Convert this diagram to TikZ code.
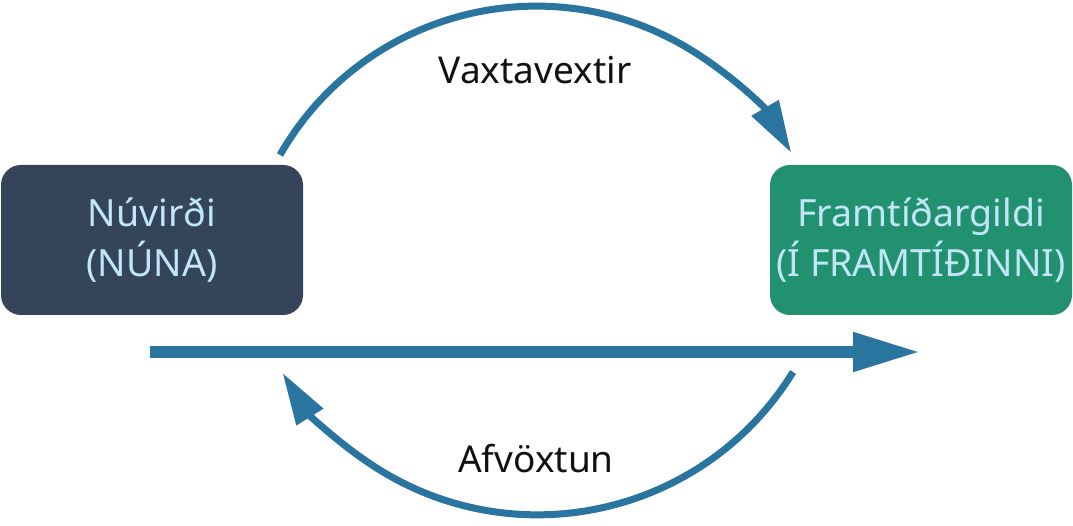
\documentclass[tikz,border=0pt]{standalone}
\usepackage{fontspec}
\setmainfont{Noto Sans}
\usetikzlibrary{arrows.meta}
\definecolor{arrowblue}{HTML}{2A74A0}
\definecolor{darkbox}{HTML}{344559}
\definecolor{greenbox}{HTML}{21916F}
\definecolor{boxtext}{HTML}{C2E6F7}
\definecolor{labeltext}{HTML}{111111}
\tikzset{
  valuebox/.style={rounded corners=20pt, minimum width=302pt, minimum height=150pt,
    inner sep=0pt, align=center, text=boxtext,
    font=\fontsize{37.5}{50}\selectfont},
  arclabel/.style={text=labeltext, font=\fontsize{37}{44}\selectfont, inner sep=0pt},
  arcarrow/.style={draw=arrowblue, line width=7pt,
    -{Triangle[length=52pt,width=30pt]}},
  timearrow/.style={draw=arrowblue, line width=11pt,
    -{Triangle[length=67pt,width=37pt]}}
}
\begin{document}
\begin{tikzpicture}[x=1pt,y=-1pt]
\useasboundingbox (0,0) rectangle (1073,526);
\node[valuebox, fill=darkbox] (pv) at (152,240) {Núvirði\\(NÚNA)};
\node[valuebox, fill=greenbox] (fv) at (921,240) {Framtíðargildi\\(Í FRAMTÍÐINNI)};
\coordinate (topstart) at (280,155);
\coordinate (botstart) at (793,372);
\coordinate (linestart) at (150,352);
\coordinate (lineend) at (920,352);
\draw[arcarrow] (topstart) arc[start angle=209.7, end angle=329.8, radius=295];
\draw[arcarrow] (botstart) arc[start angle=31.6, end angle=148.2, radius=300];
\draw[timearrow] (linestart) -- (lineend);
\node[arclabel] (comp) at (535,70) {Vaxtavextir};
\node[arclabel] (disc) at (536,459) {Afvöxtun};
\end{tikzpicture}
\end{document}
